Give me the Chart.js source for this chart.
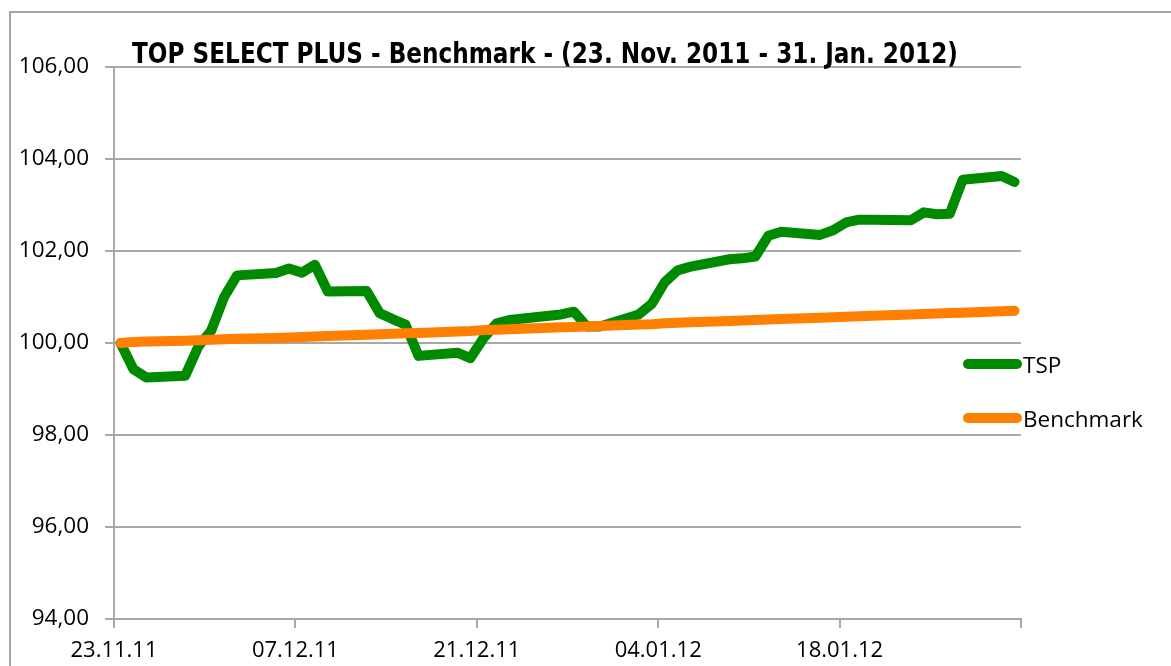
<!DOCTYPE html>
<html><head><meta charset="utf-8">
<script src="https://cdn.jsdelivr.net/npm/chart.js@4.4.0/dist/chart.umd.min.js"></script>
<style>
html,body{margin:0;padding:0;background:#fff;overflow:hidden;width:1171px;height:666px}
#frame{position:absolute;left:9px;top:11px;width:1300px;height:800px;border:2px solid #a6a6a6;box-sizing:border-box}
#wrap{position:absolute;left:0;top:0;width:1171px;height:666px}
</style></head><body>
<div id="frame"></div>
<div id="wrap"><canvas id="c" width="1171" height="666"></canvas></div>
<script>
const chartTitle = "TOP SELECT PLUS - Benchmark - (23. Nov. 2011 - 31. Jan. 2012)";
const seriesNames = ["TSP", "Benchmark"];
const dates = ["23.11.11","24.11.11","25.11.11","28.11.11","29.11.11","30.11.11","01.12.11","02.12.11",
  "05.12.11","06.12.11","07.12.11","08.12.11","09.12.11","12.12.11","13.12.11","14.12.11","15.12.11","16.12.11",
  "19.12.11","20.12.11","21.12.11","22.12.11","23.12.11","27.12.11","28.12.11","29.12.11","30.12.11",
  "02.01.12","03.01.12","04.01.12","05.01.12","06.01.12","09.01.12","10.01.12","11.01.12","12.01.12","13.01.12",
  "16.01.12","17.01.12","18.01.12","19.01.12","20.01.12","23.01.12","24.01.12","25.01.12","26.01.12","27.01.12",
  "30.01.12","31.01.12"];
const tspValues = [100.00,99.43,99.25,99.29,99.92,100.27,101.00,101.47,
  101.52,101.62,101.53,101.70,101.12,101.13,100.65,100.52,100.40,99.72,
  99.79,99.67,100.10,100.42,100.50,100.62,100.68,100.36,100.36,
  100.62,100.85,101.32,101.58,101.66,101.82,101.84,101.88,102.33,102.42,
  102.35,102.45,102.62,102.68,102.68,102.67,102.84,102.80,102.81,103.55,
  103.63,103.50];
const benchmarkValues = [100.00,100.02,100.03,100.05,100.06,100.07,100.08,100.09,
  100.11,100.12,100.13,100.14,100.15,100.18,100.19,100.20,100.21,100.22,
  100.25,100.26,100.28,100.29,100.30,100.34,100.35,100.36,100.37,
  100.40,100.41,100.43,100.44,100.45,100.48,100.49,100.50,100.51,100.52,
  100.55,100.56,100.57,100.58,100.59,100.62,100.63,100.64,100.65,100.66,
  100.69,100.70];
const xTickLabels = ["23.11.11","07.12.11","21.12.11","04.01.12","18.01.12",""];
const yMin = 94, yMax = 106, yStep = 2;
const seriesColors = ["#008a00", "#ff7f00"];

function parseDate(s){ const p = s.split('.'); return Date.UTC(2000 + +p[2], +p[1]-1, +p[0]); }
const t0 = parseDate(dates[0]);
const dayPos = dates.map(d => (parseDate(d) - t0) / 86400000 + 0.5);
const toPts = vals => vals.map((v,i) => ({x: dayPos[i], y: v}));

const FONT = '"Open Sans", "Noto Sans", sans-serif';

const titlePlugin = {
  id: 'fixedTitle',
  afterDraw(chart){
    const ctx = chart.ctx; ctx.save();
    ctx.font = 'bold 29px "DejaVu Sans Condensed", "DejaVu Sans", sans-serif';
    ctx.fillStyle = '#000'; ctx.textAlign = 'center'; ctx.textBaseline = 'alphabetic';
    ctx.translate(545, 63); ctx.scale(0.888, 1);
    ctx.fillText(chartTitle, 0, 0);
    ctx.restore();
  }
};
const legendPlugin = {
  id: 'lineLegend',
  afterDraw(chart){
    const ctx = chart.ctx; ctx.save();
    ctx.font = '22.5px ' + FONT; ctx.textBaseline = 'middle'; ctx.textAlign = 'left';
    seriesNames.forEach((n,i) => {
      const y = 364 + i*54;
      ctx.strokeStyle = seriesColors[i]; ctx.lineWidth = 10; ctx.lineCap = 'round';
      ctx.beginPath(); ctx.moveTo(968, y); ctx.lineTo(1017, y); ctx.stroke();
      ctx.fillStyle = '#000'; ctx.fillText(n, 1023, y + 3);
    });
    ctx.restore();
  }
};

new Chart(document.getElementById('c'), {
  type: 'line',
  data: { datasets: [
    { label: seriesNames[0], data: toPts(tspValues), borderColor: seriesColors[0], order: 2 },
    { label: seriesNames[1], data: toPts(benchmarkValues), borderColor: seriesColors[1], order: 1 }
  ]},
  options: {
    responsive: false, animation: false, devicePixelRatio: 1,
    layout: { padding: { left: 0, right: 150, top: 67, bottom: 0 } },
    elements: { line: { borderWidth: 10, tension: 0, borderCapStyle: 'round', borderJoinStyle: 'round', fill: false },
                point: { radius: 0 } },
    plugins: { legend: { display: false }, title: { display: false }, tooltip: { enabled: false } },
    scales: {
      x: { type: 'linear', min: 0, max: 70,
        afterFit(s){ s.height = 47; },
        ticks: { stepSize: 14, autoSkip: false, maxRotation: 0, color: '#000', padding: 10,
                 font: { family: FONT, size: 22 }, callback: (v, i) => xTickLabels[i] },
        grid: { drawOnChartArea: false, drawTicks: true, tickLength: 9, color: '#a8a8a8', lineWidth: 2 },
        border: { display: true, color: '#a8a8a8', width: 2 } },
      y: { min: yMin, max: yMax,
        afterFit(s){ s.width = 114; },
        ticks: { stepSize: yStep, color: '#000', padding: 16, font: { family: FONT, size: 22.5 },
                 callback: v => v.toFixed(2).replace('.', ',') },
        grid: { color: '#a8a8a8', lineWidth: 2, tickLength: 9 },
        border: { display: true, color: '#a8a8a8', width: 2 } }
    }
  },
  plugins: [titlePlugin, legendPlugin]
});
</script></body></html>
